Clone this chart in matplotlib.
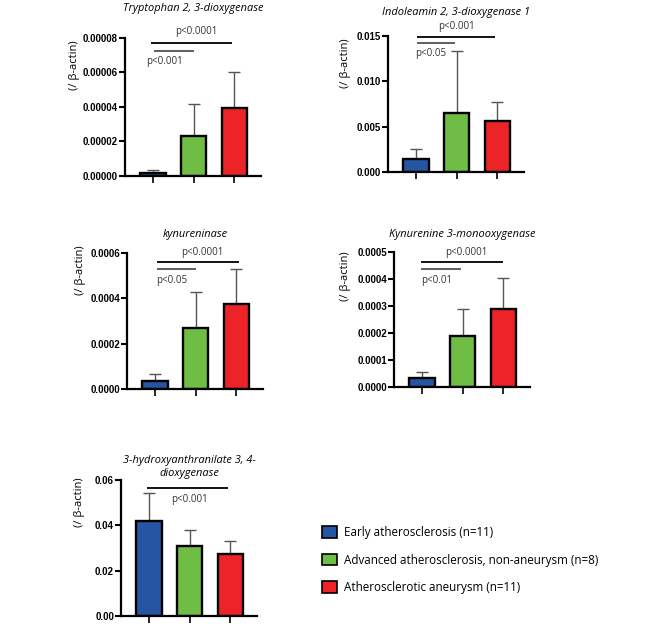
import matplotlib.pyplot as plt
from matplotlib.patches import Patch
from matplotlib.ticker import FormatStrFormatter

groups = ["Early atherosclerosis (n=11)",
          "Advanced atherosclerosis, non-aneurysm (n=8)",
          "Atherosclerotic aneurysm (n=11)"]
colors = ["#2655a3", "#70bd45", "#ec2428"]

# mean and SD per group
tdo_mean = [0.0000019, 0.0000232, 0.0000392]
tdo_sd = [0.0000014, 0.0000187, 0.0000213]
ido_mean = [0.00143, 0.00654, 0.00566]
ido_sd = [0.00111, 0.00681, 0.00209]
kynu_mean = [0.000034, 0.000269, 0.000374]
kynu_sd = [0.000032, 0.000158, 0.000155]
kmo_mean = [0.000032, 0.000189, 0.000288]
kmo_sd = [0.0000247, 0.000099, 0.000115]
haao_mean = [0.042, 0.0309, 0.0274]
haao_sd = [0.0124, 0.0070, 0.0058]

FW, FH = 661, 629
mono = ['Open Sans', 'DejaVu Sans']

# title, mean, sd, ymax, ystep, fmt, axes px box (left, top, bottom), title offset px,
# ylabel (x px left of axis, y frac), sig lines (x0, x1, y, long?), sig texts (x, y, s)
panels = [
    dict(title="Tryptophan 2, 3-dioxygenase", mean=tdo_mean, sd=tdo_sd,
         ymax=0.00008, step=0.00002, fmt='%.5f', box=(125, 38, 176), toff=29,
         ylab=(45, 0.80),
         lines=[(-0.05, 1.95, 0.0000773, True), (0.02, 1.0, 0.0000726, False)],
         texts=[(1.07, 0.0000838, "p<0.0001"), (0.29, 0.0000665, "p<0.001")]),
    dict(title="Indoleamin 2, 3-dioxygenase 1", mean=ido_mean, sd=ido_sd,
         ymax=0.015, step=0.005, fmt='%.3f', box=(388, 36, 172), toff=23,
         ylab=(37, 0.80),
         lines=[(0.02, 1.95, 0.0149, True), (0.02, 0.95, 0.01426, False)],
         texts=[(1.0, 0.01605, "p<0.001"), (0.36, 0.0131, "p<0.05")]),
    dict(title="kynureninase", mean=kynu_mean, sd=kynu_sd,
         ymax=0.0006, step=0.0002, fmt='%.4f', box=(127, 253, 389), toff=18,
         ylab=(41, 0.875),
         lines=[(0.05, 2.07, 0.000562, True), (0.05, 1.02, 0.000528, False)],
         texts=[(1.16, 0.000603, "p<0.0001"), (0.41, 0.00048, "p<0.05")]),
    dict(title="Kynurenine 3-monooxygenase", mean=kmo_mean, sd=kmo_sd,
         ymax=0.0005, step=0.0001, fmt='%.4f', box=(394, 252, 387), toff=17,
         ylab=(43, 0.82),
         lines=[(-0.02, 2.0, 0.000463, True), (-0.02, 0.95, 0.000438, False)],
         texts=[(1.1, 0.000499, "p<0.0001"), (0.36, 0.000396, "p<0.01")]),
    dict(title="3-hydroxyanthranilate 3, 4-\ndioxygenase", mean=haao_mean, sd=haao_sd,
         ymax=0.06, step=0.02, fmt='%.2f', box=(121, 480, 616), toff=13,
         ylab=(36, 0.84),
         lines=[(-0.05, 1.95, 0.0565, True)],
         texts=[(1.0, 0.0512, "p<0.001")]),
]

fig = plt.figure(figsize=(FW / 100, FH / 100), dpi=100)
x = [0, 1, 2]

for p in panels:
    left, top, bottom = p['box']
    w = 136
    ax = fig.add_axes([left / FW, 1 - bottom / FH, w / FW, (bottom - top) / FH])
    ax.bar(x, p['mean'], width=0.62, color=colors, edgecolor='black',
           linewidth=1.7, zorder=2)
    ax.errorbar(x, p['mean'], yerr=[[0, 0, 0], p['sd']], fmt='none',
                ecolor='#555555', elinewidth=1.0, capsize=4.5, capthick=1.0, zorder=1)
    ax.set_xlim(-0.69, 2.66)
    ax.set_ylim(0, p['ymax'])
    n = int(round(p['ymax'] / p['step']))
    ax.set_yticks([i * p['step'] for i in range(n + 1)])
    ax.yaxis.set_major_formatter(FormatStrFormatter(p['fmt']))
    ax.set_xticks(x)
    ax.set_xticklabels([])
    for s in ['top', 'right']:
        ax.spines[s].set_visible(False)
    for s in ['left', 'bottom']:
        ax.spines[s].set_linewidth(1.6)
    ax.tick_params(axis='y', length=4, width=1.5, pad=1)
    ax.tick_params(axis='x', length=5, width=1.2)
    for lab in ax.get_yticklabels():
        lab.set_fontfamily('Liberation Sans')
        lab.set_fontweight('bold')
        lab.set_fontsize(7)
    ax.set_ylabel("(/ β-actin)", family=mono, fontsize=8)
    ax.yaxis.set_label_coords(-p['ylab'][0] / w, p['ylab'][1])
    ax.annotate(p['title'], xy=(0.5, 1), xycoords='axes fraction',
                xytext=(0, p['toff'] * 0.72), textcoords='offset points',
                ha='center', va='center', family=mono, style='italic',
                fontsize=7.9, linespacing=1.25, annotation_clip=False)
    for x0, x1, y, long in p['lines']:
        ax.plot([x0, x1], [y, y], color='black' if long else '#333333',
                lw=1.3 if long else 1.1, clip_on=False, solid_capstyle='butt')
    for tx, ty, s in p['texts']:
        ax.text(tx, ty, s, ha='center', va='center', family=mono,
                fontsize=7, color='#333333', clip_on=False)

handles = [Patch(facecolor=c, edgecolor='black', linewidth=1.2) for c in colors]
fig.legend(handles, groups, loc='upper left', bbox_to_anchor=(322 / FW, 1 - 526 / FH),
           frameon=False, prop={'family': mono, 'size': 8.4}, borderpad=0,
           borderaxespad=0, handlelength=1.3, handleheight=1.15,
           handletextpad=0.6, labelspacing=1.25)

fig.savefig('out.png', dpi=100)
